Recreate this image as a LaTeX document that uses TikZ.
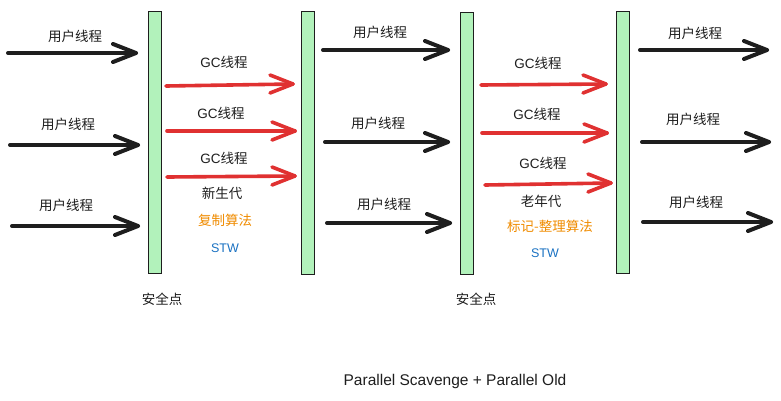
\documentclass[tikz,border=0pt]{standalone}
\usepackage{fontspec}
\setmainfont{Noto Sans CJK SC}
\newfontfamily\latinfont{Liberation Sans}
\definecolor{ink}{HTML}{1E1E1E}
\definecolor{barfill}{HTML}{B2F2BB}
\definecolor{gcred}{HTML}{E03131}
\definecolor{algo}{HTML}{F08C00}
\definecolor{stwblue}{HTML}{1971C2}
\tikzset{
  bar/.style={draw=ink, line width=1.3pt, fill=barfill, minimum width=13pt, inner sep=0pt, anchor=north west},
  lbl/.style={text=ink, font=\fontsize{13.5}{15}\selectfont, inner sep=0pt},
  stwlbl/.style={text=stwblue, inner sep=0pt, font=\latinfont\fontsize{12.5}{14}\selectfont},
  uarrow/.style={draw=ink, line width=4pt, line cap=round, line join=round},
  garrow/.style={draw=gcred, line width=3.6pt, line cap=round, line join=round},
}
\newcommand{\gclbl}{{\latinfont GC}线程}
% #1 style, #2 start, #3 tip
\newcommand{\chevarrow}[3]{%
  \draw[#1] (#2) -- (#3);
  \draw[#1] (#3) ++(-23,-9) -- (#3) -- ++(-23,9);}
\begin{document}
\begin{tikzpicture}[x=1pt,y=-1pt]
\fill[white] (0,0) rectangle (781,400);
\useasboundingbox (0,0) rectangle (781,400);
% bars
\node[bar, minimum height=262pt] (b1) at (147.5,10.5) {};
\node[bar, minimum height=263pt] (b2) at (300.5,11) {};
\node[bar, minimum height=262pt] (b3) at (460,12) {};
\node[bar, minimum height=262pt] (b4) at (615.5,10.5) {};
% user threads left
\coordinate (a1s) at (8,53);   \coordinate (a1e) at (136,53);
\coordinate (a2s) at (10,145); \coordinate (a2e) at (138,145);
\coordinate (a3s) at (12,226); \coordinate (a3e) at (138,226);
\chevarrow{uarrow}{a1s}{a1e}
\chevarrow{uarrow}{a2s}{a2e}
\chevarrow{uarrow}{a3s}{a3e}
\node[lbl] (la1) at (75,36) {用户线程};
\node[lbl] (la2) at (68,124) {用户线程};
\node[lbl] (la3) at (66,205) {用户线程};
% user threads middle
\coordinate (c1s) at (323,50);  \coordinate (c1e) at (448,50);
\coordinate (c2s) at (325,142); \coordinate (c2e) at (448,142);
\coordinate (c3s) at (327,223); \coordinate (c3e) at (450,223);
\chevarrow{uarrow}{c1s}{c1e}
\chevarrow{uarrow}{c2s}{c2e}
\chevarrow{uarrow}{c3s}{c3e}
\node[lbl] (lc1) at (380,32) {用户线程};
\node[lbl] (lc2) at (378,123) {用户线程};
\node[lbl] (lc3) at (384,204) {用户线程};
% user threads right
\coordinate (e1s) at (640,50);  \coordinate (e1e) at (767,50);
\coordinate (e2s) at (642,142); \coordinate (e2e) at (769,142);
\coordinate (e3s) at (643,222); \coordinate (e3e) at (771,222);
\chevarrow{uarrow}{e1s}{e1e}
\chevarrow{uarrow}{e2s}{e2e}
\chevarrow{uarrow}{e3s}{e3e}
\node[lbl] (le1) at (695,33) {用户线程};
\node[lbl] (le2) at (693,119) {用户线程};
\node[lbl] (le3) at (696,202) {用户线程};
% GC threads left
\coordinate (g1s) at (166,86);  \coordinate (g1e) at (293,84);
\coordinate (g2s) at (167,131); \coordinate (g2e) at (295,131);
\coordinate (g3s) at (167,177); \coordinate (g3e) at (295,176);
\chevarrow{garrow}{g1s}{g1e}
\chevarrow{garrow}{g2s}{g2e}
\chevarrow{garrow}{g3s}{g3e}
\node[lbl] (lg1) at (224,62) {\gclbl};
\node[lbl] (lg2) at (221,113) {\gclbl};
\node[lbl] (lg3) at (224,158) {\gclbl};
\node[lbl] (young) at (222,193) {新生代};
\node[lbl, text=algo] (copy) at (225,220) {复制算法};
\node[stwlbl] (stw1) at (225,248) {STW};
% GC threads right
\coordinate (h1s) at (481,85);  \coordinate (h1e) at (606,84);
\coordinate (h2s) at (482,133); \coordinate (h2e) at (607,133);
\coordinate (h3s) at (485,185); \coordinate (h3e) at (611,183);
\chevarrow{garrow}{h1s}{h1e}
\chevarrow{garrow}{h2s}{h2e}
\chevarrow{garrow}{h3s}{h3e}
\node[lbl] (lh1) at (538,63) {\gclbl};
\node[lbl] (lh2) at (537,114) {\gclbl};
\node[lbl] (lh3) at (543,163) {\gclbl};
\node[lbl] (old) at (541,201) {老年代};
\node[lbl, text=algo] (mark) at (550,226) {标记-整理算法};
\node[stwlbl] (stw2) at (545,253) {STW};
% safe points
\node[lbl] (sp1) at (162,299) {安全点};
\node[lbl] (sp2) at (476,299) {安全点};
% title
\node[lbl, font=\latinfont\fontsize{15.5}{18}\selectfont] (title) at (455,381) {Parallel Scavenge + Parallel Old};
\end{tikzpicture}
\end{document}
